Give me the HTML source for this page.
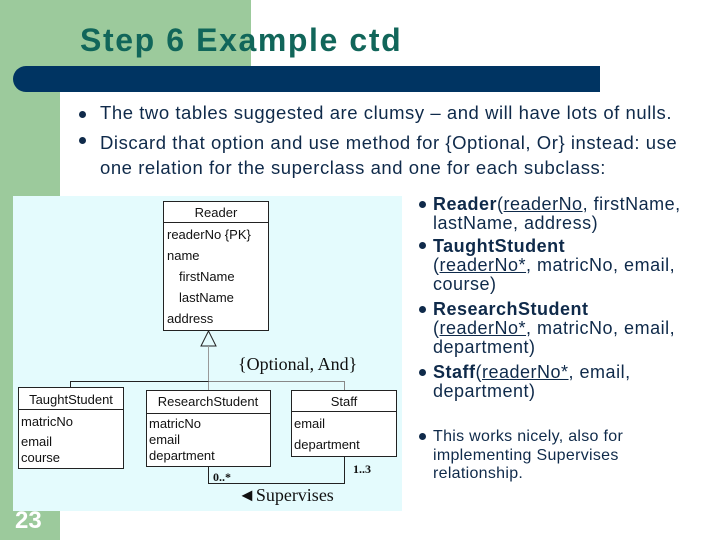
<!DOCTYPE html>
<html><head><style>
body{margin:0;width:720px;height:540px;position:relative;overflow:hidden;background:#fff;font-family:"Liberation Sans",sans-serif}
.a{position:absolute;white-space:nowrap}
.t{color:#0f2a4a;font-size:18.5px;letter-spacing:0.55px}
.r{color:#0f2a4a;font-size:18px;line-height:19px;letter-spacing:0.5px}
.d{position:absolute;width:7px;height:7px;border-radius:50%;background:#0f2a4a}
u{text-decoration:underline}
</style></head><body>
<div class="a" style="left:0;top:0;width:251px;height:88px;background:#9cca9c"></div>
<div class="a" style="left:0;top:0;width:60px;height:540px;background:#9cca9c"></div>
<div class="a" style="left:60px;top:88px;width:660px;height:423px;background:#fff"></div>
<div class="a" style="left:80px;top:22px;font-size:32px;font-weight:bold;color:#11665a;letter-spacing:1.6px">Step 6 Example ctd</div>
<div class="a" style="left:13px;top:66px;width:587px;height:26px;background:#003462;border-radius:13px 0 0 13px"></div>
<div class="d" style="left:79px;top:111px"></div>
<div class="d" style="left:79px;top:137px"></div>
<div class="a t" style="left:100px;top:102px">The two tables suggested are clumsy – and will have lots of nulls.</div>
<div class="a t" style="left:100px;top:130px;line-height:25px">Discard that option and use method for {Optional, Or} instead: use<br>one relation for the superclass and one for each subclass:</div>
<svg class="a" style="left:0;top:0" width="720" height="540">
<rect x="13" y="196" width="389" height="315" fill="#e4fbfd"/>
<g fill="#fff" stroke="#222" stroke-width="1">
<rect x="163.5" y="201.5" width="105" height="129"/>
<rect x="18.5" y="387.5" width="105" height="81"/>
<rect x="146.5" y="390.5" width="124" height="76"/>
<rect x="291.5" y="390.5" width="105" height="66"/>
</g>
<g stroke="#222" fill="none">
<line x1="163" y1="222.5" x2="268" y2="222.5"/>
<line x1="18" y1="409.5" x2="123" y2="409.5"/>
<line x1="146" y1="413.5" x2="270" y2="413.5"/>
<line x1="291" y1="411.5" x2="396" y2="411.5"/>
<polygon points="208.5,331 201,346 216,346"/>
<line x1="208.5" y1="346" x2="208.5" y2="390" stroke="#999"/>
<polyline points="70.5,387 70.5,381.5 208.5,381.5"/>
<polyline points="208.5,381.5 344.5,381.5 344.5,390" stroke="#888"/>
<polyline points="208.5,466 208.5,483.5 344.5,483.5 344.5,456"/>
</g>
<g font-family="Liberation Sans,sans-serif" font-size="13" fill="#111">
<text x="216" y="217" text-anchor="middle">Reader</text>
<text x="167" y="239">readerNo {PK}</text>
<text x="167" y="260">name</text>
<text x="179" y="281">firstName</text>
<text x="179" y="302">lastName</text>
<text x="167" y="323">address</text>
<text x="71" y="404" text-anchor="middle">TaughtStudent</text>
<text x="21" y="426">matricNo</text>
<text x="21" y="446">email</text>
<text x="21" y="462">course</text>
<text x="208" y="406" text-anchor="middle">ResearchStudent</text>
<text x="149" y="428">matricNo</text>
<text x="149" y="444">email</text>
<text x="149" y="460">department</text>
<text x="344" y="406" text-anchor="middle">Staff</text>
<text x="294" y="428">email</text>
<text x="294" y="449">department</text>
</g>
<g font-family="Liberation Serif,serif" fill="#111">
<text x="238" y="370" font-size="18">{Optional, And}</text>
<text x="213" y="481" font-size="12" font-weight="bold">0..*</text>
<text x="353" y="473" font-size="12" font-weight="bold">1..3</text>
<text x="238" y="501" font-size="18">◄Supervises</text>
</g>
<text x="15" y="528" font-family="Liberation Sans,sans-serif" font-size="24" font-weight="bold" fill="#fff">23</text>
</svg>
<div class="d" style="left:419px;top:201px"></div>
<div class="d" style="left:419px;top:242px"></div>
<div class="d" style="left:419px;top:306px"></div>
<div class="d" style="left:419px;top:369px"></div>
<div class="d" style="left:419px;top:433px"></div>
<div class="a r" style="left:433px;top:195px"><b>Reader</b>(<u>readerNo</u>, firstName,<br>lastName, address)</div>
<div class="a r" style="left:433px;top:237px"><b>TaughtStudent</b><br>(<u>readerNo*</u>, matricNo, email,<br>course)</div>
<div class="a r" style="left:433px;top:300px"><b>ResearchStudent</b><br>(<u>readerNo*</u>, matricNo, email,<br>department)</div>
<div class="a r" style="left:433px;top:363px"><b>Staff</b>(<u>readerNo*</u>, email,<br>department)</div>
<div class="a r" style="left:433px;top:428px;font-size:16px;line-height:18.5px;letter-spacing:0.3px">This works nicely, also for<br>implementing Supervises<br>relationship.</div>
</body></html>
